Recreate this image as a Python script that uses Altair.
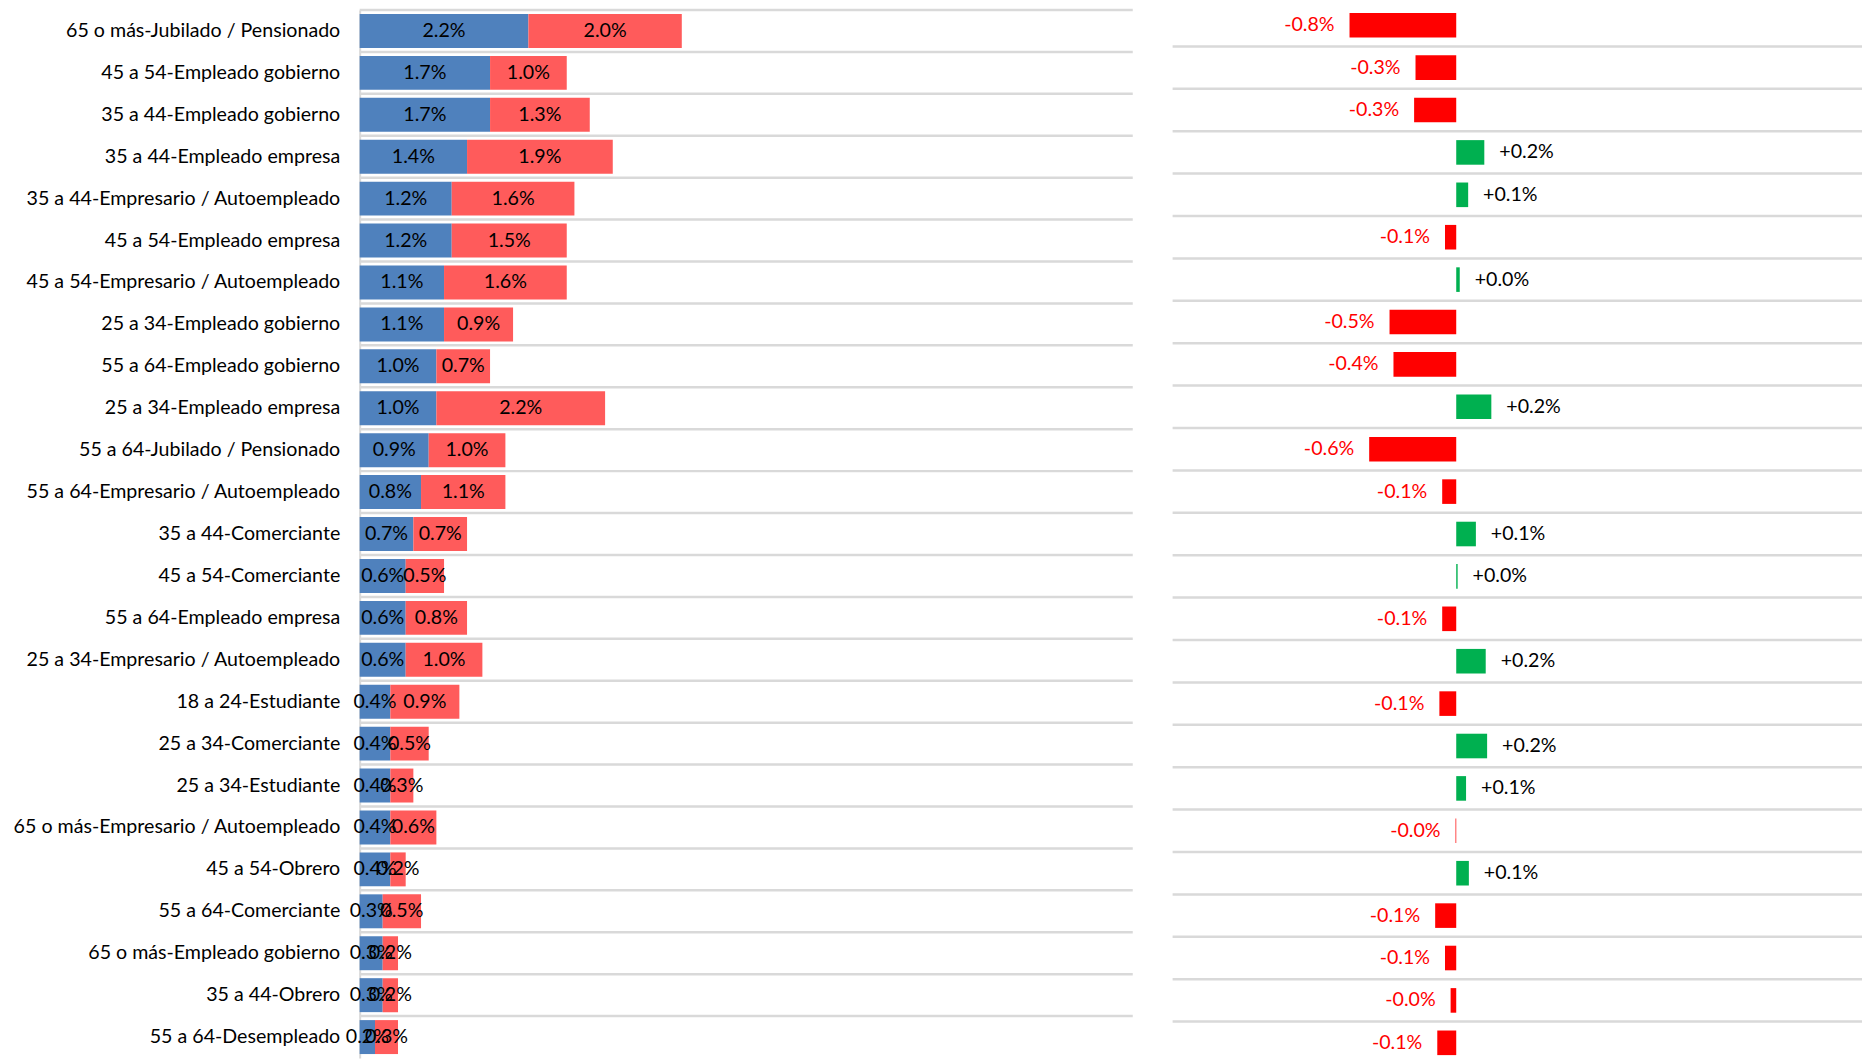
import altair as alt
import pandas as pd

categories = [
    "65 o más-Jubilado / Pensionado",
    "45 a 54-Empleado gobierno",
    "35 a 44-Empleado gobierno",
    "35 a 44-Empleado empresa",
    "35 a 44-Empresario / Autoempleado",
    "45 a 54-Empleado empresa",
    "45 a 54-Empresario / Autoempleado",
    "25 a 34-Empleado gobierno",
    "55 a 64-Empleado gobierno",
    "25 a 34-Empleado empresa",
    "55 a 64-Jubilado / Pensionado",
    "55 a 64-Empresario / Autoempleado",
    "35 a 44-Comerciante",
    "45 a 54-Comerciante",
    "55 a 64-Empleado empresa",
    "25 a 34-Empresario / Autoempleado",
    "18 a 24-Estudiante",
    "25 a 34-Comerciante",
    "25 a 34-Estudiante",
    "65 o más-Empresario / Autoempleado",
    "45 a 54-Obrero",
    "55 a 64-Comerciante",
    "65 o más-Empleado gobierno",
    "35 a 44-Obrero",
    "55 a 64-Desempleado",
]

blue_vals = [2.2, 1.7, 1.7, 1.4, 1.2, 1.2, 1.1, 1.1, 1.0, 1.0, 0.9, 0.8, 0.7,
             0.6, 0.6, 0.6, 0.4, 0.4, 0.4, 0.4, 0.4, 0.3, 0.3, 0.3, 0.2]
red_vals = [2.0, 1.0, 1.3, 1.9, 1.6, 1.5, 1.6, 0.9, 0.7, 2.2, 1.0, 1.1, 0.7,
            0.5, 0.8, 1.0, 0.9, 0.5, 0.3, 0.6, 0.2, 0.5, 0.2, 0.2, 0.3]

change_vals = [-0.76, -0.29, -0.30, 0.20, 0.085, -0.08, 0.025, -0.475, -0.447,
               0.25, -0.62, -0.10, 0.14, 0.01, -0.10, 0.21, -0.12, 0.22, 0.07,
               -0.005, 0.09, -0.15, -0.08, -0.04, -0.135]
change_labels = ["-0.8%", "-0.3%", "-0.3%", "+0.2%", "+0.1%", "-0.1%", "+0.0%",
                 "-0.5%", "-0.4%", "+0.2%", "-0.6%", "-0.1%", "+0.1%", "+0.0%",
                 "-0.1%", "+0.2%", "-0.1%", "+0.2%", "+0.1%", "-0.0%", "+0.1%",
                 "-0.1%", "-0.1%", "-0.0%", "-0.1%"]

BLUE = "#4F81BD"
RED_LIGHT = "#FF5B5B"
RED = "#FF0000"
GREEN = "#00B050"
GRID = "#D9D9D9"
FONT = "Lato"
FS = 19.7

rows = []
for c, b, r in zip(categories, blue_vals, red_vals):
    rows.append(dict(cat=c, serie="A", start=0.0, end=b, mid=b / 2, label=f"{b:.1f}%"))
    rows.append(dict(cat=c, serie="B", start=b, end=b + r, mid=b + r / 2, label=f"{r:.1f}%"))
left_df = pd.DataFrame(rows)

right_df = pd.DataFrame(dict(cat=categories, v=change_vals, label=change_labels))
right_df["sign"] = ["neg" if v < 0 else "pos" for v in change_vals]

band = alt.Scale(paddingInner=0, paddingOuter=0)

# ---------- left panel ----------
left_axis = alt.Axis(labelFont=FONT, labelFontSize=FS, labelColor="#000000",
                     labelPadding=20, ticks=False, domain=True, domainColor=GRID,
                     domainWidth=2, grid=False, labelLimit=800)
y_left = alt.Y("cat:N", sort=categories, title=None, scale=band, axis=left_axis)
y_left_grid = alt.Y("cat:N", sort=categories, title=None, scale=band, axis=left_axis,
                    bandPosition=0)

left_grid = alt.Chart(right_df).mark_rule(color=GRID, strokeWidth=2.5).encode(y=y_left_grid)
left_bars = alt.Chart(left_df).mark_bar(height=alt.RelativeBandSize(0.81)).encode(
    x=alt.X("start:Q", scale=alt.Scale(domain=[0, 10.08], nice=False, zero=True), axis=None),
    x2="end:Q",
    y=y_left,
    color=alt.Color("serie:N", scale=alt.Scale(domain=["A", "B"], range=[BLUE, RED_LIGHT]), legend=None),
)
left_text = alt.Chart(left_df).mark_text(font=FONT, fontSize=FS, color="#000000",
                                         align="center", baseline="middle").encode(
    x=alt.X("mid:Q"), y=y_left, text="label:N"
)
left = alt.layer(left_grid, left_bars, left_text).properties(width=776, height=1052)

# ---------- right panel ----------
y_plain = alt.Y("cat:N", sort=categories, scale=band, axis=None)
xr = alt.X("v:Q", scale=alt.Scale(domain=[-2.02, 2.89], nice=False, zero=False), axis=None)
right_grid = alt.Chart(right_df).mark_rule(color=GRID, strokeWidth=2.5).encode(
    y=alt.Y("cat:N", sort=categories, scale=band, axis=None, bandPosition=0)
)
right_bars = alt.Chart(right_df).mark_bar(height=alt.RelativeBandSize(0.58)).encode(
    x=xr, x2=alt.datum(0), y=y_plain,
    color=alt.Color("sign:N", scale=alt.Scale(domain=["neg", "pos"], range=[RED, GREEN]), legend=None),
)
neg_text = alt.Chart(right_df).transform_filter(alt.datum.sign == "neg").mark_text(
    font=FONT, fontSize=FS, color=RED, align="right", baseline="middle", dx=-15
).encode(x=xr, y=y_plain, text="label:N")
pos_text = alt.Chart(right_df).transform_filter(alt.datum.sign == "pos").mark_text(
    font=FONT, fontSize=FS, color="#000000", align="left", baseline="middle", dx=15
).encode(x=xr, y=y_plain, text="label:N")
right = alt.layer(right_grid, right_bars, neg_text, pos_text).properties(width=692, height=1064)

chart = alt.hconcat(left, right, spacing=36, center=True).resolve_scale(
    color="independent", x="independent", y="independent"
).properties(padding={"left": 4, "top": -8, "right": 0, "bottom": 0}).configure_view(stroke=None)

chart.save("out.html", embed_options={"renderer": "svg", "actions": False})
